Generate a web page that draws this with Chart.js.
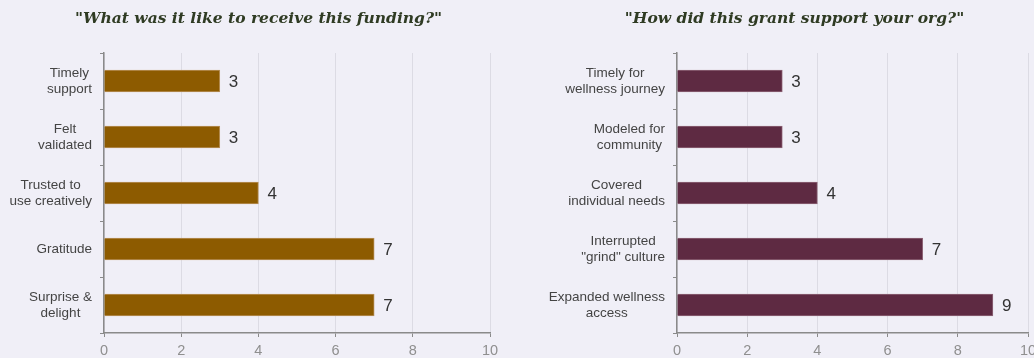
<!DOCTYPE html>
<html>
<head>
<meta charset="utf-8">
<script src="https://cdn.jsdelivr.net/npm/chart.js@4"></script>
<style>
  html, body { margin: 0; padding: 0; background: #f0eff7; overflow: hidden; }
  .wrap { position: relative; width: 1034px; height: 358px; overflow: hidden; }
  .panel { position: absolute; top: 0; }
  #left { left: 0; }
  #right { left: 517px; }
</style>
</head>
<body>
<div class="wrap">
  <div class="panel" id="left"><canvas id="fundingChart" width="517" height="358"></canvas></div>
  <div class="panel" id="right"><canvas id="grantChart" width="555" height="358"></canvas></div>
</div>
<script>
// Respostas das duas perguntas
const fundingTitle = '"What was it like to receive this funding?"';
const fundingLabels = [['Timely', 'support'], ['Felt', 'validated'], ['Trusted to', 'use creatively'], ['Gratitude'], ['Surprise &', 'delight']];
const fundingValues = [3, 3, 4, 7, 7];

const grantTitle = '"How did this grant support your org?"';
const grantLabels = [['Timely for', 'wellness journey'], ['Modeled for', 'community'], ['Covered', 'individual needs'], ['Interrupted', '"grind" culture'], ['Expanded wellness', 'access']];
const grantValues = [3, 3, 4, 7, 9];

const xTicks = [0, 2, 4, 6, 8, 10];

const AXIS = '#8a8a8a';
const GRID = '#dcdbe4';

// Rótulos do eixo Y: bloco alinhado à direita, linhas centralizadas
const yLabelPlugin = {
  id: 'yLabels',
  afterDraw(chart) {
    const { ctx, chartArea, scales: { y } } = chart;
    const labels = chart.data.labels;
    ctx.save();
    ctx.font = '13.5px "Liberation Sans", Arial, sans-serif';
    ctx.fillStyle = '#444444';
    ctx.textAlign = 'center';
    ctx.textBaseline = 'middle';
    const lh = 16;
    labels.forEach((lines, i) => {
      const widest = Math.max(...lines.map(l => ctx.measureText(l).width));
      const cx = chartArea.left - 12 - widest / 2;
      const cy = y.getPixelForTick(i);
      lines.forEach((l, j) => {
        ctx.fillText(l, cx, cy + (j - (lines.length - 1) / 2) * lh);
      });
    });
    ctx.restore();
  }
};

// Valor ao lado de cada barra
const valuePlugin = {
  id: 'barValues',
  afterDatasetsDraw(chart) {
    const { ctx } = chart;
    const ds = chart.data.datasets[0];
    ctx.save();
    ctx.font = '17px "Liberation Sans", Arial, sans-serif';
    ctx.fillStyle = '#333333';
    ctx.textAlign = 'left';
    ctx.textBaseline = 'middle';
    chart.getDatasetMeta(0).data.forEach((bar, i) => {
      ctx.fillText(ds.data[i], bar.x + 9, bar.y + 1);
    });
    ctx.restore();
  }
};

function makeChart(id, title, labels, values, color, border, side, axisWidth) {
  return new Chart(document.getElementById(id), {
    type: 'bar',
    data: {
      labels: labels,
      datasets: [{
        data: values,
        backgroundColor: color,
        borderColor: border,
        borderWidth: 1,
        borderSkipped: 'left',
        barThickness: 22
      }]
    },
    options: {
      indexAxis: 'y',
      responsive: false,
      animation: false,
      layout: { padding: { left: side, right: side, top: 0, bottom: 0 } },
      plugins: {
        legend: { display: false },
        tooltip: { enabled: false },
        title: {
          display: true,
          text: title,
          color: '#2f3b23',
          font: { family: '"DejaVu Serif", Georgia, serif', size: 15.5, weight: 'bold', style: 'italic' },
          padding: { top: 10, bottom: 24.4 }
        }
      },
      scales: {
        x: {
          min: 0,
          max: 10,
          afterBuildTicks: s => { s.ticks = xTicks.map(v => ({ value: v })); },
          afterFit: s => { s.height = 25; },
          grid: { color: GRID, tickColor: AXIS, tickLength: 4 },
          border: { color: AXIS, width: 1.5 },
          ticks: { color: '#8f8f8f', padding: 5, font: { family: '"Liberation Sans", Arial, sans-serif', size: 14.5 } }
        },
        y: {
          offset: true,
          afterFit: s => { s.width = axisWidth; },
          grid: { offset: true, drawOnChartArea: false, drawTicks: true, tickLength: 4, color: AXIS },
          border: { color: AXIS, width: 1.5 },
          ticks: { display: false }
        }
      }
    },
    plugins: [yLabelPlugin, valuePlugin]
  });
}

makeChart('fundingChart', fundingTitle, fundingLabels, fundingValues, '#8d5b00', '#b8915a', 27, 77);
makeChart('grantChart', grantTitle, grantLabels, grantValues, '#5e2a42', '#8e6577', 44, 116);
</script>
</body>
</html>
